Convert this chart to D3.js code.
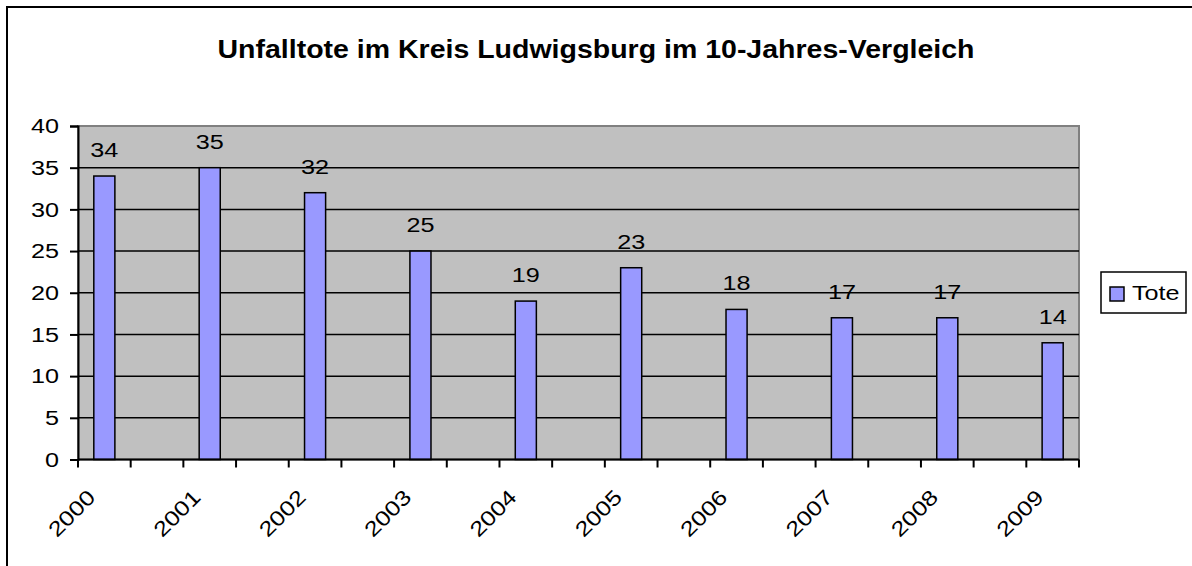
<!DOCTYPE html>
<html>
<head>
<meta charset="utf-8">
<script src="https://cdn.jsdelivr.net/npm/d3@7"></script>
<style>
	body { margin: 0; background: #fff; }
	svg text { font-family: "Liberation Sans", Arial, sans-serif; fill: #000; }
</style>
</head>
<body>
<svg id="chart" width="1192" height="566"></svg>
<script>
// data
var years = ["2000", "2001", "2002", "2003", "2004", "2005", "2006", "2007", "2008", "2009"];
var tote = [34, 35, 32, 25, 19, 23, 18, 17, 17, 14];
var yTicks = [0, 5, 10, 15, 20, 25, 30, 35, 40];
var titleText = "Unfalltote im Kreis Ludwigsburg im 10-Jahres-Vergleich";
var seriesName = "Tote";

var plot = { left: 78, right: 1079, top: 126, bottom: 459.5 };
var sx = 1.2; // the original picture is a bit wider than tall

// the sheet has an empty category between each year
var slots = [];
years.forEach(function(y, i) {
	slots.push(y);
	if (i < years.length - 1) slots.push("gap" + i);
});

var svg = d3.select("#chart");

// outer chart border (cut off at right and bottom)
svg.append("rect")
	.attr("x", 7).attr("y", 7)
	.attr("width", 1300).attr("height", 700)
	.attr("fill", "none").attr("stroke", "#000").attr("stroke-width", 2);

svg.append("text")
	.attr("x", 596).attr("y", 58)
	.attr("text-anchor", "middle")
	.attr("textLength", 757).attr("lengthAdjust", "spacingAndGlyphs")
	.style("font-size", "25px").style("font-weight", "bold")
	.text(titleText);

var xScale = d3.scaleBand().domain(slots).range([plot.left, plot.right]);
var yScale = d3.scaleLinear().domain([0, 40]).range([plot.bottom, plot.top]);

// plot area
svg.append("rect")
	.attr("x", plot.left).attr("y", plot.top)
	.attr("width", plot.right - plot.left).attr("height", plot.bottom - plot.top)
	.attr("fill", "#C0C0C0").attr("stroke", "#808080").attr("stroke-width", 2);

// gridlines
svg.append("g").selectAll("line").data(yTicks.slice(1, -1)).enter().append("line")
	.attr("x1", plot.left).attr("x2", plot.right)
	.attr("y1", d => yScale(d)).attr("y2", d => yScale(d))
	.attr("stroke", "#000").attr("stroke-width", 1.5);

// bars
var barW = xScale.bandwidth() * 0.4;
var data = years.map((y, i) => ({ year: y, value: tote[i] }));

svg.append("g").selectAll("rect").data(data).enter().append("rect")
	.attr("x", d => xScale(d.year) + (xScale.bandwidth() - barW) / 2)
	.attr("y", d => yScale(d.value))
	.attr("width", barW)
	.attr("height", d => plot.bottom - yScale(d.value))
	.attr("fill", "#9999FF").attr("stroke", "#000").attr("stroke-width", 1.5);

// value labels
svg.append("g").selectAll("text").data(data).enter().append("text")
	.attr("transform", d => "translate(" + (xScale(d.year) + xScale.bandwidth() / 2) + "," + (yScale(d.value) - 19) + ") scale(" + sx + ",1)")
	.attr("text-anchor", "middle")
	.style("font-size", "21px")
	.text(d => d.value);

// y axis
var yAxis = d3.axisLeft(yScale).tickValues(yTicks).tickSize(8).tickPadding(10);
var gy = svg.append("g").attr("transform", "translate(" + plot.left + ",0)").call(yAxis);
gy.select(".domain").attr("stroke", "#000").attr("stroke-width", 2);
gy.selectAll(".tick line").attr("stroke", "#000").attr("stroke-width", 2);
gy.selectAll(".tick text")
	.attr("x", 0)
	.attr("transform", "translate(-19,0) scale(" + sx + ",1)")
	.style("font-size", "21px").attr("font-family", null);

// x axis, ticks at every slot boundary
var xAxisLine = svg.append("g");
xAxisLine.append("line")
	.attr("x1", plot.left).attr("x2", plot.right)
	.attr("y1", plot.bottom).attr("y2", plot.bottom)
	.attr("stroke", "#000").attr("stroke-width", 2);
var bounds = slots.map(s => xScale(s)).concat([plot.right]);
xAxisLine.selectAll(".xt").data(bounds).enter().append("line")
	.attr("x1", d => d).attr("x2", d => d)
	.attr("y1", plot.bottom).attr("y2", plot.bottom + 8)
	.attr("stroke", "#000").attr("stroke-width", 2);

svg.append("g").selectAll("text").data(years).enter().append("text")
	.attr("transform", d => "translate(" + (xScale(d) + xScale.bandwidth() / 2 - 13) + "," + (plot.bottom + 34) + ") rotate(-45) scale(" + sx + ",1)")
	.attr("text-anchor", "end")
	.attr("dy", "0.35em")
	.style("font-size", "21px")
	.text(d => d);

// legend
var lg = svg.append("g").attr("transform", "translate(1101,272)");
lg.append("rect").attr("width", 85).attr("height", 41)
	.attr("fill", "#fff").attr("stroke", "#000").attr("stroke-width", 1.5);
lg.append("rect").attr("x", 9).attr("y", 15).attr("width", 14).attr("height", 14)
	.attr("fill", "#9999FF").attr("stroke", "#000").attr("stroke-width", 1.5);
lg.append("text").attr("transform", "translate(31,21) scale(" + sx + ",1)").attr("dy", "0.35em")
	.style("font-size", "21px").text(seriesName);
</script>
</body>
</html>
